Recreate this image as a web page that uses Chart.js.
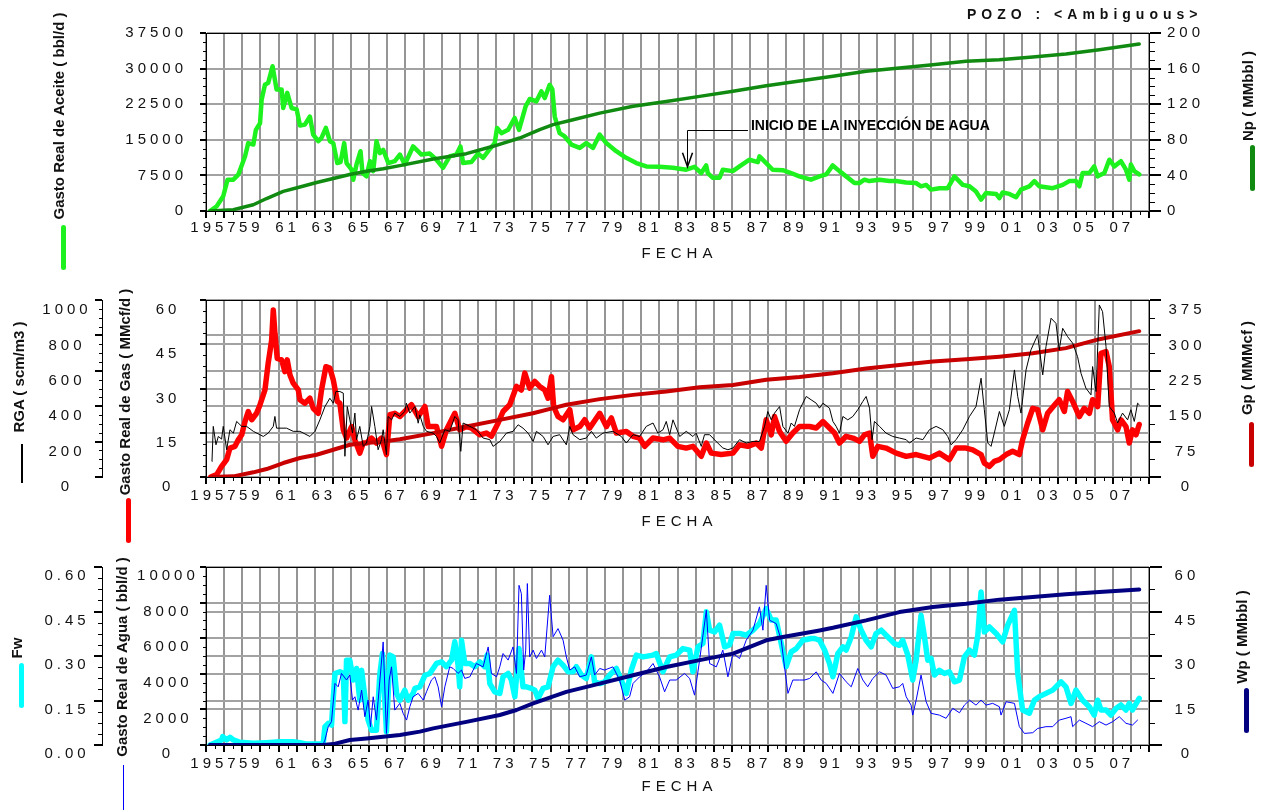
<!DOCTYPE html>
<html>
<head>
<meta charset="utf-8">
<script src="https://cdn.jsdelivr.net/npm/chart.js@4.4.1/dist/chart.umd.min.js"></script>
<style>
  body { margin: 0; background: #fff; overflow: hidden; }
  #wrap { position: relative; width: 1265px; height: 810px; }
  canvas { position: absolute; left: 0; }
  .txt { position: absolute; white-space: nowrap; font-family: 'Liberation Sans', Arial, sans-serif; color: #111; z-index: 2; }
  .ttl { font-weight: bold; font-size: 15px; transform: translate(-50%, -50%) rotate(-90deg); }
  .fecha { font-size: 15px; letter-spacing: 5px; padding-left: 5px; transform: translate(-50%, -50%); }
  .key { position: absolute; border-radius: 3px; z-index: 2; }
</style>
</head>
<body>
<div id="wrap">
  <canvas id="c1" width="1265" height="270" style="top:0"></canvas>
  <canvas id="c2" width="1265" height="270" style="top:270px"></canvas>
  <canvas id="c3" width="1265" height="270" style="top:540px"></canvas>

  <div class="txt" style="left:967px;top:6px;font-weight:bold;font-size:14px;letter-spacing:5px">POZO : &lt;Ambiguous&gt;</div>

  <div class="txt ttl" style="left:58px;top:116px">Gasto Real de Aceite ( bbl/d )</div>
  <div class="txt ttl" style="left:1247px;top:96px">Np ( MMbbl )</div>
  <div class="txt ttl" style="left:18px;top:377px">RGA ( scm/m3 )</div>
  <div class="txt ttl" style="left:124px;top:392px">Gasto Real de Gas ( MMcf/d )</div>
  <div class="txt ttl" style="left:1246px;top:368px">Gp ( MMMcf )</div>
  <div class="txt ttl" style="left:16px;top:648px">Fw</div>
  <div class="txt ttl" style="left:121px;top:657px">Gasto Real de Agua ( bbl/d )</div>
  <div class="txt ttl" style="left:1241px;top:637px">Wp ( MMbbl )</div>

  <div class="txt fecha" style="left:677px;top:252px">FECHA</div>
  <div class="txt fecha" style="left:677px;top:520px">FECHA</div>
  <div class="txt fecha" style="left:677px;top:785px">FECHA</div>

  <!-- line keys under the axis titles -->
  <div class="key" style="left:61px;top:225px;width:5px;height:45px;background:#1ef21e"></div>
  <div class="key" style="left:1250px;top:145px;width:5px;height:46px;background:#108a10"></div>
  <div class="key" style="left:21px;top:444px;width:1.5px;height:39px;background:#000;border-radius:0"></div>
  <div class="key" style="left:126px;top:498px;width:5px;height:45px;background:#ff0000"></div>
  <div class="key" style="left:1249px;top:422px;width:5px;height:45px;background:#c80000"></div>
  <div class="key" style="left:19px;top:663px;width:5px;height:45px;background:#00ffff"></div>
  <div class="key" style="left:123px;top:765px;width:1px;height:45px;background:#0000ff;border-radius:0"></div>
  <div class="key" style="left:1244px;top:688px;width:5px;height:45px;background:#000080"></div>
</div>

<script>
// ---- data (decimal year, value) ----
const yearFirst = 1957;
const yearLast = 2009;

// oil rate, bbl/d
const oilRate = [
  [1957.22,0],[1957.59,1000],[1957.95,3100],[1958.19,6600],[1958.51,6600],[1958.78,7650],[1959.15,11500],
  [1959.33,14300],[1959.61,14000],[1959.75,17100],[1959.98,18500],[1960.07,23500],[1960.25,26600],[1960.43,27000],
  [1960.67,30500],[1960.89,25600],[1961.17,25600],[1961.26,21700],[1961.48,24900],[1961.72,21700],[1962.0,21400],
  [1962.18,18000],[1962.45,18200],[1962.73,19900],[1962.91,16100],[1963.19,14700],[1963.37,15400],[1963.61,17500],
  [1963.83,14700],[1964.02,14300],[1964.24,10100],[1964.42,10300],[1964.62,14300],[1964.75,10100],[1965.03,8700],
  [1965.12,6600],[1965.3,9800],[1965.52,12600],[1965.63,8000],[1965.85,7300],[1966.04,10500],[1966.22,8400],
  [1966.4,14700],[1966.59,12200],[1966.77,12900],[1967.05,10100],[1967.41,10500],[1967.69,11900],[1967.96,9800],
  [1968.42,13600],[1968.88,11900],[1969.34,12100],[1969.71,10800],[1970.07,9100],[1970.44,11500],[1970.81,11900],
  [1971.03,13600],[1971.18,10100],[1971.63,10300],[1972.0,12100],[1972.28,11200],[1972.56,12600],[1972.92,14300],
  [1973.05,17500],[1973.29,16400],[1973.66,17100],[1974.02,19600],[1974.26,17100],[1974.63,22100],[1974.85,23600],
  [1975.22,23100],[1975.49,25200],[1975.68,23800],[1975.95,26600],[1976.1,25600],[1976.23,19900],[1976.5,16400],
  [1976.78,15700],[1977.15,14000],[1977.61,13300],[1977.97,14300],[1978.34,13300],[1978.71,16100],[1979.07,14300],
  [1979.62,12600],[1980.17,11200],[1980.73,10100],[1981.28,9400],[1982.01,9300],[1982.75,9100],[1983.48,8700],
  [1983.94,9300],[1984.31,8000],[1984.58,9600],[1984.67,8000],[1984.95,7000],[1985.32,7000],[1985.5,8700],
  [1986.05,8400],[1986.42,9400],[1986.97,10800],[1987.43,10300],[1987.52,11500],[1987.89,10100],[1988.25,8700],
  [1988.8,8600],[1989.26,8000],[1989.72,7300],[1990.36,6600],[1990.83,7300],[1991.2,7700],[1991.56,9600],
  [1991.93,8400],[1992.3,7300],[1992.76,5900],[1993.03,5900],[1993.31,6600],[1993.58,6300],[1994.13,6600],
  [1994.69,6300],[1995.05,6300],[1995.6,6000],[1996.15,5900],[1996.43,5200],[1996.71,5500],[1996.98,4500],
  [1997.44,4800],[1997.9,4800],[1998.27,7300],[1998.73,5500],[1999.1,5200],[1999.46,4100],[1999.74,2400],
  [2000.01,3800],[2000.57,3600],[2000.75,2700],[2000.93,3900],[2001.3,3600],[2001.67,2900],[2001.94,4500],
  [2002.4,5200],[2002.68,6300],[2002.95,5200],[2003.69,4800],[2004.24,5500],[2004.6,6300],[2004.97,6300],
  [2005.16,5200],[2005.34,8000],[2005.71,8000],[2005.98,9400],[2006.17,7300],[2006.54,8000],[2006.81,10800],
  [2007.09,9400],[2007.45,10500],[2007.73,8700],[2007.91,6600],[2008.0,9800],[2008.19,8400],[2008.46,7700]
];

// cumulative oil, MMbbl
const npCum = [
  [1957.22,0],[1958.51,1.5],[1959.61,7],[1960.34,14],[1961.26,22],[1962.18,27],[1963.1,32],[1964.02,36.5],
  [1964.93,41],[1965.85,44.6],[1966.77,47.5],[1967.69,51],[1969.53,58.4],[1971.36,64.4],[1972.83,72.7],
  [1974.3,82],[1975.4,91.4],[1976.14,97],[1977.24,102.6],[1978.71,110],[1980.55,117.6],[1982.38,123],
  [1984.22,128.8],[1986.06,134.5],[1987.89,140.8],[1989.73,146],[1991.57,151.3],[1993.4,157],[1995.24,160.7],
  [1997.08,164.4],[1998.91,168.2],[2000.75,170],[2002.59,173],[2004.42,176.4],[2006.26,181.3],[2008.46,187.6]
];

// gas rate, MMcf/d
const gasRate = [
  [1957.26,0],[1957.59,0.8],[1957.86,3.6],[1958.14,5.9],[1958.32,9.8],[1958.6,10.4],[1958.78,12.6],[1958.97,14.3],
  [1959.15,18.8],[1959.33,22.2],[1959.52,19.4],[1959.79,21.6],[1959.98,24.5],[1960.25,29.5],[1960.43,38.6],
  [1960.62,46.4],[1960.71,56.6],[1960.8,48.7],[1960.93,40.2],[1961.17,39.7],[1961.35,35.7],[1961.48,39.7],
  [1961.63,34.6],[1961.81,31.8],[1962.09,29.5],[1962.18,26.2],[1962.45,25],[1962.73,26.7],[1962.91,23.3],
  [1963.19,21.6],[1963.37,29.5],[1963.61,37.4],[1963.83,36.9],[1964.02,32.9],[1964.24,25.6],[1964.38,25],
  [1964.57,16],[1964.75,13.2],[1965.03,17.1],[1965.21,12.6],[1965.48,8.1],[1965.67,11.5],[1965.85,11.5],
  [1966.13,13.2],[1966.4,11.5],[1966.68,13.2],[1966.95,7.6],[1967.14,21.1],[1967.41,21.6],[1967.69,20.5],
  [1967.96,22.2],[1968.33,24.5],[1968.7,20.5],[1969.07,23.9],[1969.25,17.1],[1969.71,17.1],[1969.99,10.4],
  [1970.26,16],[1970.72,21.6],[1970.99,16],[1971.36,17.1],[1971.64,16.6],[1972.1,14.3],[1972.46,14.9],
  [1972.74,13.8],[1973.11,18.3],[1973.38,22.2],[1973.75,24.5],[1974.12,30.7],[1974.39,29.5],[1974.58,35.2],
  [1974.85,30.1],[1975.13,32.4],[1975.4,30.7],[1975.68,29.5],[1975.86,26.7],[1976.05,34],[1976.17,23.9],
  [1976.41,20.5],[1976.69,19.4],[1977.06,22.8],[1977.24,16],[1977.61,17.1],[1977.88,19.4],[1978.16,16.6],
  [1978.71,21.6],[1979.08,17.1],[1979.35,20],[1979.63,14.9],[1980.18,15.4],[1980.55,13.8],[1980.91,13.2],
  [1981.19,10.4],[1981.65,13.2],[1982.2,12.6],[1982.57,13.2],[1983.02,10.4],[1983.48,9.8],[1983.85,10.4],
  [1984.31,7],[1984.59,11.5],[1984.86,8.1],[1985.41,7.6],[1986.06,8.1],[1986.42,10.9],[1986.88,10.4],
  [1987.34,11.5],[1987.62,9.8],[1987.89,19.4],[1988.17,14.3],[1988.35,20.5],[1988.63,15.4],[1988.99,12.1],
  [1989.36,14.9],[1989.73,17.1],[1990.28,17.1],[1990.65,16.6],[1991.02,18.8],[1991.38,16.6],[1991.66,14.9],
  [1991.93,11.5],[1992.3,13.8],[1992.67,13.2],[1993.04,12.1],[1993.31,14.3],[1993.59,14.9],[1993.77,7],
  [1994.05,10.4],[1994.5,9.8],[1995.06,8.1],[1995.61,7],[1996.16,7.6],[1996.89,6.4],[1997.44,8.1],[1997.99,5.9],
  [1998.36,9.8],[1998.91,9.8],[1999.28,9.2],[1999.74,7.6],[1999.92,4.7],[2000.2,3.6],[2000.47,5.3],[2000.75,5.9],
  [2001.12,7.6],[2001.48,8.7],[2001.85,7.6],[2002.03,12.6],[2002.31,18.3],[2002.59,23.3],[2002.86,22.8],
  [2003.14,16],[2003.41,21.6],[2003.87,25],[2004.05,26.2],[2004.33,22.2],[2004.51,29],[2004.79,25.6],
  [2005.16,20.5],[2005.43,23.3],[2005.71,21.6],[2005.89,26.2],[2006.17,23.9],[2006.35,41.9],[2006.63,42.5],
  [2006.81,37.4],[2006.99,19.4],[2007.27,16],[2007.45,19.4],[2007.73,17.1],[2007.91,11.5],[2008.09,16],
  [2008.28,14.3],[2008.46,17.8]
];

// cumulative gas, MMMcf
const gpCum = [
  [1957.26,0],[1958.51,1.4],[1959.61,9.9],[1960.34,16.9],[1961.26,29.6],[1962.18,40.2],[1963.1,47.2],
  [1964.02,57.8],[1964.93,68.4],[1965.85,71.9],[1966.77,75.4],[1967.69,80],[1969.53,93],[1971.36,107],
  [1973.2,121],[1975.03,135],[1976.14,146],[1976.87,153],[1978.71,165],[1980.55,174],[1982.38,181],
  [1984.22,190],[1986.06,195],[1987.89,206],[1989.73,212],[1991.57,220],[1993.4,230],[1995.24,237.5],
  [1997.08,244.5],[1998.91,249.5],[2000.75,255],[2002.59,262],[2004.42,273],[2006.26,292],[2008.46,309]
];

// gas-oil ratio, scm/m3
const rga = [
  [1957.33,88],[1957.4,286],[1957.55,182],[1957.68,229],[1957.86,214],[1957.95,286],[1958.14,154],[1958.32,267],
  [1958.51,248],[1958.69,314],[1958.97,286],[1959.24,286],[1959.61,258],[1960.16,229],[1960.43,248],[1960.71,286],
  [1960.8,342],[1960.89,276],[1961.44,276],[1961.81,258],[1962.18,258],[1962.73,229],[1963.01,258],[1963.28,323],
  [1963.56,398],[1963.83,445],[1964.02,417],[1964.16,483],[1964.38,483],[1964.57,474],[1964.66,117],[1964.79,398],
  [1964.93,323],[1965.08,248],[1965.21,361],[1965.3,211],[1965.48,286],[1965.67,173],[1965.85,192],[1966.04,286],
  [1966.13,398],[1966.31,286],[1966.49,154],[1966.68,211],[1966.77,267],[1966.95,126],[1967.04,342],[1967.23,323],
  [1967.41,361],[1967.69,342],[1967.96,370],[1968.05,417],[1968.24,361],[1968.52,398],[1968.7,304],[1968.79,351],
  [1968.98,286],[1969.16,258],[1969.53,248],[1969.71,229],[1969.89,192],[1970.17,267],[1970.44,258],[1970.72,342],
  [1970.9,323],[1971.05,145],[1971.18,305],[1971.55,286],[1971.91,267],[1972.28,220],[1972.65,211],[1972.83,173],
  [1973.2,201],[1973.57,248],[1973.93,258],[1974.21,295],[1974.48,276],[1974.76,248],[1975.04,201],[1975.22,258],
  [1975.59,229],[1975.86,182],[1976.14,229],[1976.5,239],[1976.87,182],[1977.06,286],[1977.24,239],[1977.61,211],
  [1977.97,220],[1978.25,258],[1978.52,220],[1978.89,248],[1979.44,258],[1979.9,229],[1980.18,192],[1980.55,239],
  [1980.91,229],[1981.28,286],[1981.65,305],[1981.92,248],[1982.2,267],[1982.38,314],[1982.57,239],[1982.75,323],
  [1983.12,229],[1983.48,258],[1983.85,229],[1984.03,248],[1984.31,173],[1984.49,239],[1984.77,239],[1985.13,201],
  [1985.5,164],[1985.78,154],[1986.06,164],[1986.42,211],[1986.79,192],[1987.16,201],[1987.52,201],[1987.8,286],
  [1987.98,370],[1988.17,323],[1988.35,361],[1988.63,398],[1988.81,286],[1989.09,248],[1989.27,305],[1989.45,286],
  [1989.73,380],[1989.91,417],[1990.1,455],[1990.37,436],[1990.65,417],[1990.83,389],[1991.02,417],[1991.38,389],
  [1991.57,314],[1991.75,286],[1991.93,248],[1992.12,342],[1992.39,323],[1992.67,342],[1992.94,380],[1993.22,427],
  [1993.4,455],[1993.59,389],[1993.73,211],[1993.86,314],[1994.14,286],[1994.5,248],[1994.87,229],[1995.24,220],
  [1995.61,211],[1995.79,192],[1996.16,220],[1996.53,211],[1996.89,267],[1997.26,286],[1997.63,267],[1997.9,229],
  [1998.09,182],[1998.36,211],[1998.73,267],[1999.1,342],[1999.46,398],[1999.74,558],[1999.92,380],[2000.11,192],
  [2000.29,173],[2000.47,248],[2000.75,370],[2001.02,286],[2001.3,380],[2001.58,605],[2001.76,455],[2001.94,361],
  [2002.22,605],[2002.49,718],[2002.86,803],[2003.14,577],[2003.32,737],[2003.6,897],[2003.87,868],[2004.05,718],
  [2004.24,840],[2004.51,793],[2004.79,756],[2005.06,680],[2005.25,586],[2005.52,502],[2005.8,464],[2005.89,624],
  [2006.08,483],[2006.26,972],[2006.44,934],[2006.63,737],[2006.81,398],[2007.09,361],[2007.27,305],[2007.54,361],
  [2007.82,323],[2008.0,380],[2008.19,314],[2008.37,417],[2008.46,408]
];

// water rate, bbl/d
const waterRate = [
  [1957.22,0],[1957.77,50],[1958.51,60],[1960.34,40],[1962.18,40],[1963.46,50],[1963.56,280],[1963.74,1030],
  [1963.92,1310],[1964.11,3460],[1964.29,3270],[1964.47,4020],[1964.75,3650],[1964.93,3930],[1965.08,2520],
  [1965.21,2710],[1965.39,1960],[1965.58,3080],[1965.76,1590],[1965.94,2520],[1966.07,1030],[1966.22,2710],
  [1966.4,1400],[1966.59,3650],[1966.77,5790],[1966.95,650],[1967.1,3650],[1967.23,4390],[1967.41,1960],
  [1967.69,2340],[1967.87,1780],[1968.06,1400],[1968.24,2150],[1968.42,2710],[1968.7,2900],[1968.98,2520],
  [1969.16,2990],[1969.43,3650],[1969.62,3830],[1969.8,3270],[1969.99,2150],[1970.17,3270],[1970.44,4390],
  [1970.63,4300],[1970.9,4020],[1971.09,4210],[1971.27,3740],[1971.55,3830],[1971.91,4580],[1972.28,4390],
  [1972.56,5510],[1972.74,4020],[1973.02,3830],[1973.2,4390],[1973.38,5140],[1973.66,4770],[1973.93,5510],
  [1974.12,4020],[1974.26,8970],[1974.39,8500],[1974.52,4210],[1974.63,5330],[1974.72,9070],[1974.85,4950],
  [1975.04,5330],[1975.22,4860],[1975.5,5330],[1975.68,4950],[1975.95,8410],[1976.14,6080],[1976.41,6540],
  [1976.69,5890],[1976.87,4950],[1977.06,4210],[1977.33,4390],[1977.61,3830],[1977.97,3930],[1978.25,4950],
  [1978.43,3930],[1978.71,4300],[1978.98,4210],[1979.44,4390],[1979.81,3650],[1980.09,2520],[1980.36,2710],
  [1980.55,3460],[1980.91,3830],[1981.28,4110],[1981.65,4580],[1982.01,3830],[1982.29,2990],[1982.57,3650],
  [1982.93,3650],[1983.39,4020],[1983.67,3740],[1983.94,2800],[1984.22,4770],[1984.59,7570],[1984.77,4580],
  [1985.14,4390],[1985.5,5330],[1985.78,3830],[1986.06,5140],[1986.42,4860],[1986.79,5890],[1987.16,6450],
  [1987.52,7760],[1987.71,6450],[1987.89,8970],[1988.08,7010],[1988.44,6820],[1988.72,5890],[1988.9,4390],
  [1989.09,2900],[1989.36,3650],[1989.73,3650],[1990.01,3650],[1990.28,3740],[1990.65,4110],[1990.92,3650],
  [1991.2,3460],[1991.57,2900],[1991.93,4020],[1992.3,3550],[1992.58,3270],[1992.94,4300],[1993.22,3650],
  [1993.49,3270],[1993.77,3740],[1994.14,4110],[1994.5,3930],[1994.87,3180],[1995.24,3270],[1995.42,3460],
  [1995.61,2710],[1995.88,2240],[1995.97,1680],[1996.16,2520],[1996.43,3930],[1996.71,2430],[1996.98,1780],
  [1997.44,1680],[1997.81,1500],[1998.18,2060],[1998.55,1810],[1998.82,2240],[1999.1,2520],[1999.46,2240],
  [1999.74,2520],[2000.01,2240],[2000.38,2340],[2000.75,2150],[2000.84,1680],[2001.12,2430],[2001.58,2340],
  [2001.85,1030],[2002.13,650],[2002.59,690],[2002.86,930],[2003.32,1030],[2003.69,1030],[2004.05,1400],
  [2004.42,1500],[2004.7,1590],[2004.79,1030],[2005.16,1400],[2005.52,1220],[2005.89,1030],[2006.26,1310],
  [2006.63,1120],[2007.0,1310],[2007.36,1590],[2007.73,1220],[2008.09,1120],[2008.37,1400]
];

// water cut, fraction
const fwCut = [
  [1957.22,0],[1957.86,0.017],[1957.92,0.028],[1958.14,0.017],[1958.32,0.026],[1958.51,0.017],[1958.87,0.009],
  [1959.61,0.006],[1960.34,0.008],[1961.08,0.011],[1961.81,0.011],[1962.18,0.008],[1962.55,0.003],[1963.46,0.003],
  [1963.56,0.062],[1963.74,0.073],[1963.92,0.067],[1964.11,0.241],[1964.38,0.247],[1964.57,0.241],[1964.66,0.079],
  [1964.75,0.286],[1964.93,0.286],[1965.12,0.219],[1965.3,0.258],[1965.48,0.151],[1965.58,0.252],[1965.76,0.163],
  [1965.94,0.084],[1966.13,0.05],[1966.4,0.05],[1966.59,0.241],[1966.73,0.308],[1966.95,0.045],[1967.14,0.303],
  [1967.32,0.297],[1967.51,0.174],[1967.69,0.151],[1967.96,0.185],[1968.15,0.151],[1968.42,0.174],[1968.52,0.191],
  [1968.79,0.196],[1969.07,0.235],[1969.34,0.241],[1969.71,0.275],[1969.99,0.28],[1970.26,0.264],[1970.54,0.286],
  [1970.72,0.348],[1970.9,0.269],[1970.99,0.196],[1971.09,0.353],[1971.27,0.275],[1971.55,0.275],[1971.82,0.264],
  [1972.1,0.28],[1972.37,0.264],[1972.5,0.303],[1972.65,0.207],[1972.92,0.179],[1973.2,0.174],[1973.38,0.23],
  [1973.66,0.241],[1973.84,0.219],[1974.03,0.163],[1974.26,0.325],[1974.48,0.196],[1974.67,0.196],[1974.94,0.191],
  [1975.13,0.185],[1975.31,0.157],[1975.59,0.191],[1975.86,0.196],[1976.14,0.264],[1976.41,0.286],[1976.69,0.269],
  [1976.96,0.247],[1977.24,0.247],[1977.42,0.264],[1977.7,0.236],[1977.97,0.224],[1978.25,0.297],[1978.43,0.213],
  [1978.71,0.207],[1978.98,0.213],[1979.26,0.236],[1979.63,0.258],[1979.9,0.219],[1980.18,0.174],[1980.45,0.252],
  [1980.73,0.303],[1981.1,0.297],[1981.65,0.303],[1981.83,0.308],[1982.2,0.247],[1982.57,0.297],[1982.93,0.303],
  [1983.3,0.325],[1983.67,0.32],[1983.85,0.247],[1984.13,0.331],[1984.4,0.342],[1984.59,0.449],[1984.77,0.387],
  [1985.05,0.381],[1985.32,0.404],[1985.6,0.331],[1985.87,0.337],[1986.06,0.376],[1986.42,0.376],[1986.79,0.37],
  [1987.16,0.387],[1987.52,0.409],[1987.89,0.46],[1988.17,0.421],[1988.44,0.421],[1988.72,0.342],[1988.99,0.264],
  [1989.27,0.314],[1989.55,0.325],[1989.91,0.353],[1990.37,0.359],[1990.56,0.359],[1990.83,0.353],[1991.11,0.32],
  [1991.38,0.275],[1991.57,0.23],[1991.84,0.308],[1992.12,0.331],[1992.3,0.32],[1992.58,0.364],[1992.85,0.432],
  [1993.13,0.387],[1993.4,0.353],[1993.68,0.331],[1993.95,0.376],[1994.23,0.387],[1994.6,0.364],[1994.96,0.342],
  [1995.24,0.336],[1995.42,0.353],[1995.7,0.303],[1995.97,0.219],[1996.16,0.286],[1996.43,0.437],[1996.62,0.364],
  [1996.8,0.286],[1996.98,0.292],[1997.17,0.236],[1997.44,0.252],[1997.72,0.241],[1997.99,0.247],[1998.27,0.213],
  [1998.55,0.219],[1998.82,0.297],[1999.1,0.32],[1999.37,0.303],[1999.56,0.37],[1999.74,0.516],[1999.92,0.381],
  [2000.2,0.398],[2000.57,0.376],[2000.93,0.348],[2001.21,0.404],[2001.58,0.454],[2001.76,0.241],[2002.03,0.118],
  [2002.4,0.107],[2002.68,0.151],[2002.95,0.163],[2003.32,0.174],[2003.69,0.185],[2004.15,0.213],[2004.42,0.196],
  [2004.7,0.14],[2004.97,0.185],[2005.34,0.151],[2005.71,0.129],[2005.98,0.101],[2006.17,0.151],[2006.35,0.118],
  [2006.63,0.118],[2006.9,0.101],[2007.18,0.123],[2007.45,0.135],[2007.73,0.118],[2007.91,0.14],[2008.09,0.118],
  [2008.46,0.157]
];

// cumulative water, MMbbl
const wpCum = [
  [1957.22,0],[1963.46,0],[1964.02,0.3],[1964.93,1.7],[1965.85,2.2],[1966.77,2.8],[1967.69,3.4],[1968.79,4.5],
  [1969.53,5.6],[1971.36,7.8],[1973.2,10.1],[1974.12,11.8],[1975.04,14],[1976.87,17.9],[1978.71,20.7],
  [1980.55,23.5],[1982.38,26.3],[1984.22,28.6],[1986.06,30.8],[1987.89,35.3],[1988.81,36.4],[1990.83,38.6],
  [1991.57,39.5],[1993.4,42],[1995.24,44.8],[1997.08,46.5],[1998.91,47.6],[2000.75,49],[2002.59,49.9],
  [2004.42,50.8],[2006.26,51.6],[2008.46,52.4]
];

// annotation: arrow at [year, tip rate, elbow rate], text starting year
const noteText = 'INICIO DE LA INYECCIÓN DE AGUA';
const noteArrow = [1983.5, 9300, 17100];
const noteTextYear = 1987.05;

// ---- chart helpers ----
Chart.defaults.font.family = "'Liberation Sans', Arial, sans-serif";
Chart.defaults.color = '#111';
const FONT = { size: 15 };

function yearLabel(v) {
  if (v === yearFirst) return String(v);
  if (v % 2 === 1 && v < yearLast) return String(v).slice(2);
  return '';
}

function xAxis(height, pad) {
  return {
    type: 'linear', position: 'bottom', min: yearFirst, max: yearLast,
    afterFit: s => { s.height = height; },
    ticks: { stepSize: 1, autoSkip: false, maxRotation: 0, maxTicksLimit: 100, labelOffset: 9,
             padding: pad, font: FONT, callback: yearLabel },
    grid: { color: '#959595', lineWidth: 2, tickLength: 7, tickColor: '#000' },
    border: { color: '#000', width: 1 }
  };
}

function yAxis(o) {
  return {
    type: 'linear', position: o.pos, weight: o.weight || 0, min: 0, max: o.max,
    afterFit: s => { s.width = o.width; },
    ticks: { stepSize: o.step, maxTicksLimit: 50, padding: o.pad, labelOffset: o.offset || 0,
             crossAlign: o.align || 'near', font: FONT, callback: o.fmt || (v => String(v)) },
    grid: { drawOnChartArea: o.grid !== false, color: '#a2a2a2', lineWidth: 2, tickLength: o.tick, tickColor: '#000' },
    border: { color: '#000', width: 1 }
  };
}

function series(label, pairs, axis, color, width) {
  return {
    label, yAxisID: axis, data: pairs.map(p => ({ x: p[0], y: p[1] })),
    borderColor: color, borderWidth: width, pointRadius: 0, tension: 0, fill: false,
    borderJoinStyle: 'round', borderCapStyle: 'round'
  };
}

// wide digits like the original print
const spacing = { id: 'spacing', afterInit(chart) { chart.ctx.letterSpacing = '4px'; } };

// top edge of the plot frame
const frame = {
  id: 'frame',
  beforeDatasetsDraw(chart) {
    const { ctx, chartArea: a } = chart;
    ctx.save();
    ctx.strokeStyle = '#000';
    ctx.lineWidth = 1;
    ctx.beginPath();
    ctx.moveTo(a.left, Math.round(a.top) + 0.5);
    ctx.lineTo(a.right, Math.round(a.top) + 0.5);
    ctx.stroke();
    ctx.restore();
  }
};

// short minor tick marks on each axis
const minorTicks = {
  id: 'minorTicks',
  afterDraw(chart, args, opts) {
    const ctx = chart.ctx;
    ctx.save();
    ctx.strokeStyle = '#000';
    ctx.lineWidth = 1;
    ctx.beginPath();
    (opts.list || []).forEach(m => {
      const s = chart.scales[m.id];
      const n = Math.round((s.max - s.min) / m.step);
      for (let i = 0; i <= n; i++) {
        const p = Math.round(s.getPixelForValue(s.min + i * m.step)) + 0.5;
        if (s.isHorizontal()) { ctx.moveTo(p, s.top); ctx.lineTo(p, s.top + m.len); }
        else if (s.position === 'left') { ctx.moveTo(s.right - m.len, p); ctx.lineTo(s.right, p); }
        else { ctx.moveTo(s.left, p); ctx.lineTo(s.left + m.len, p); }
      }
    });
    ctx.stroke();
    ctx.restore();
  }
};

const injection = {
  id: 'injection',
  afterDatasetsDraw(chart) {
    const { ctx } = chart;
    const x = chart.scales.x, y = chart.scales.oil;
    const ax = Math.round(x.getPixelForValue(noteArrow[0])) + 0.5;
    const tip = y.getPixelForValue(noteArrow[1]);
    const elbow = Math.round(y.getPixelForValue(noteArrow[2])) + 0.5;
    const tx = x.getPixelForValue(noteTextYear);
    ctx.save();
    ctx.letterSpacing = '0px';
    ctx.strokeStyle = '#000';
    ctx.lineWidth = 1;
    ctx.beginPath();
    ctx.moveTo(tx - 3, elbow);
    ctx.lineTo(ax, elbow);
    ctx.lineTo(ax, tip);
    ctx.stroke();
    ctx.lineWidth = 1.5;
    ctx.beginPath();
    ctx.moveTo(ax - 5, tip - 14);
    ctx.lineTo(ax, tip);
    ctx.lineTo(ax + 5, tip - 14);
    ctx.stroke();
    ctx.font = "bold 14px 'Liberation Sans', Arial, sans-serif";
    ctx.fillStyle = '#000';
    ctx.textBaseline = 'middle';
    ctx.textAlign = 'left';
    ctx.fillText(noteText, tx, elbow - 4);
    ctx.restore();
  }
};

function panel(id, o) {
  return new Chart(document.getElementById(id), {
    type: 'line',
    data: { datasets: o.datasets },
    options: {
      responsive: false, animation: false, events: [],
      layout: { padding: { top: o.top, left: 0, right: 0, bottom: 0 } },
      plugins: { legend: { display: false }, tooltip: { enabled: false }, minorTicks: { list: o.minor } },
      scales: o.scales
    },
    plugins: [spacing, frame, minorTicks].concat(o.extra || [])
  });
}

// ---- oil panel ----
panel('c1', {
  top: 33,
  datasets: [
    series('Np', npCum, 'np', '#108a10', 3.5),
    series('Gasto Real de Aceite', oilRate, 'oil', '#1ef21e', 4.5)
  ],
  scales: {
    x: xAxis(59, 1),
    oil: yAxis({ pos: 'left', max: 37500, step: 7500, width: 206, tick: 6, pad: 13 }),
    np: yAxis({ pos: 'right', max: 200, step: 40, width: 116, tick: 12, pad: 6, grid: false })
  },
  minor: [{ id: 'x', step: 0.5, len: 4 }, { id: 'oil', step: 1875, len: 3 }, { id: 'np', step: 10, len: 6 }],
  extra: [injection]
});

// ---- gas panel ----
panel('c2', {
  top: 30,
  datasets: [
    series('RGA', rga, 'rga', '#000000', 1),
    series('Gp', gpCum, 'gp', '#c80000', 4),
    series('Gasto Real de Gas', gasRate, 'gas', '#ff0000', 5.5)
  ],
  scales: {
    x: xAxis(63, 3),
    gas: yAxis({ pos: 'left', weight: 0, max: 60, step: 15, width: 104, tick: 6, pad: 19.6, align: 'center', offset: 10 }),
    rga: yAxis({ pos: 'left', weight: 1, max: 1000, step: 200, width: 102, tick: 7, pad: 3.3, align: 'center', offset: 10, grid: false }),
    gp: yAxis({ pos: 'right', max: 375, step: 75, width: 116, tick: 12, pad: 7.5, align: 'center', offset: 10 })
  },
  minor: [{ id: 'x', step: 0.5, len: 4 }, { id: 'gas', step: 3.75, len: 3 }, { id: 'rga', step: 50, len: 3 }, { id: 'gp', step: 37.5, len: 6 }]
});

// ---- water panel ----
panel('c3', {
  top: 27,
  datasets: [
    series('Wp', wpCum, 'wp', '#000080', 4),
    series('Gasto Real de Agua', waterRate, 'water', '#0000ff', 1),
    series('Fw', fwCut, 'fw', '#00ffff', 5.5)
  ],
  scales: {
    x: xAxis(65, 3),
    water: yAxis({ pos: 'left', weight: 0, max: 10000, step: 2000, width: 104, tick: 6, pad: 1.2, align: 'center', offset: 9 }),
    fw: yAxis({ pos: 'left', weight: 1, max: 0.6, step: 0.15, width: 102, tick: 8, pad: 4.4, align: 'center', offset: 9, grid: false,
                fmt: v => v.toFixed(2) }),
    wp: yAxis({ pos: 'right', max: 60, step: 15, width: 116, tick: 13, pad: 12.6, align: 'center', offset: 9 })
  },
  minor: [{ id: 'x', step: 0.5, len: 4 }, { id: 'water', step: 500, len: 3 }, { id: 'fw', step: 0.0375, len: 4 }, { id: 'wp', step: 7.5, len: 6 }]
});
</script>
</body>
</html>
